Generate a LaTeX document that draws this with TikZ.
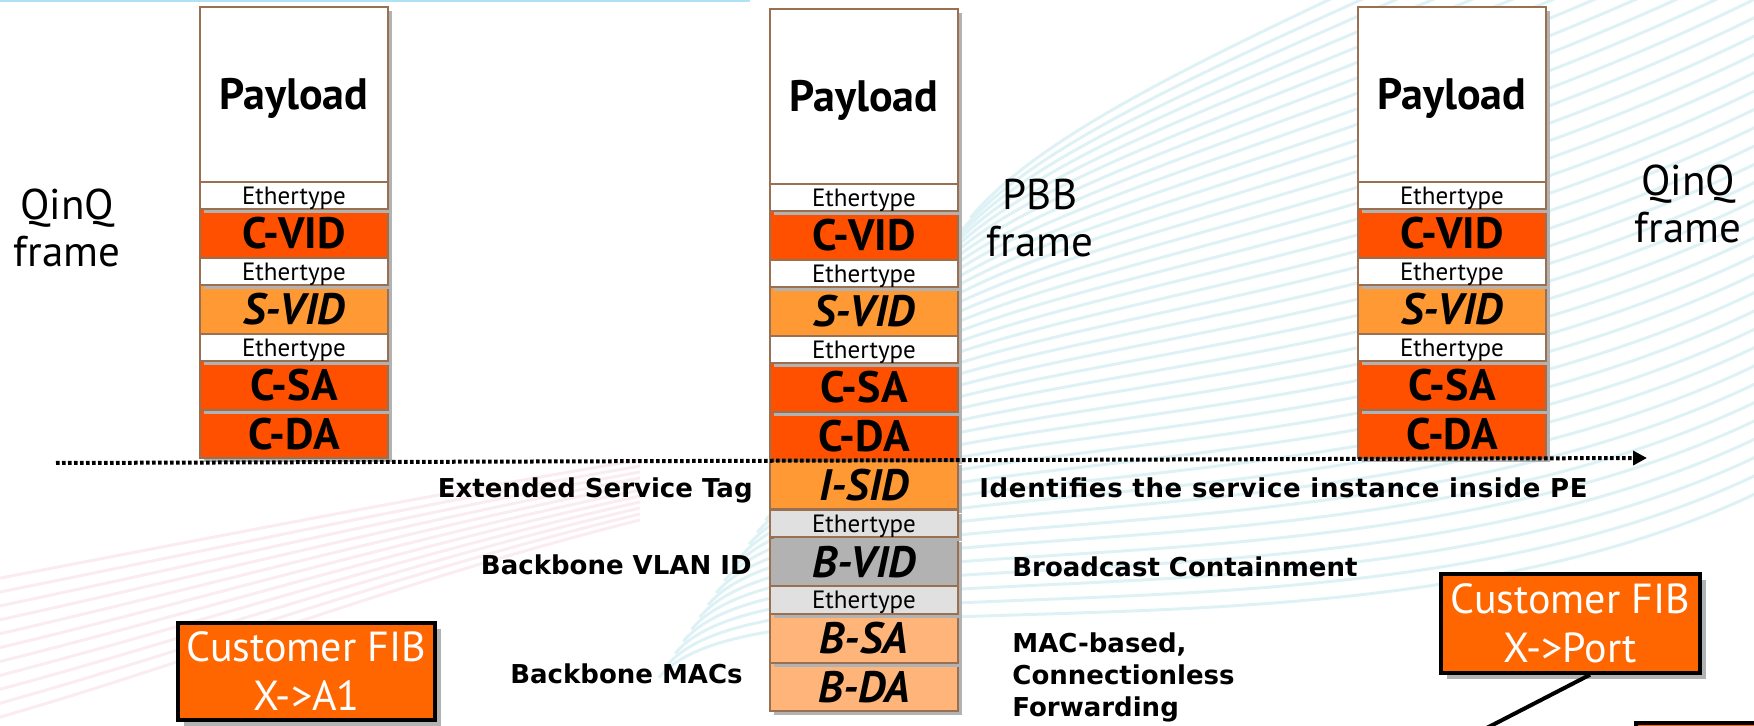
\documentclass[tikz,border=0pt]{standalone}
\usepackage{fontspec}
\setmainfont{PT Sans}
\newfontfamily\lblfont{DejaVu Sans}
\usetikzlibrary{shadows,arrows.meta,calc,positioning}

\definecolor{cred}{RGB}{255,80,0}
\definecolor{sorange}{RGB}{255,153,51}
\definecolor{bvgrey}{RGB}{178,178,178}
\definecolor{ethgrey}{RGB}{224,224,224}
\definecolor{peach}{RGB}{255,181,122}
\definecolor{fldedge}{RGB}{153,112,82}
\definecolor{shgrey}{RGB}{178,178,178}
\definecolor{fiborange}{RGB}{255,102,0}
\definecolor{swcyan}{RGB}{222,242,246}
\definecolor{swpink}{RGB}{250,236,241}
\definecolor{swblue}{RGB}{175,226,245}

\tikzset{
  fld/.style={rectangle, draw=fldedge, line width=1pt, inner sep=0pt, outer sep=0pt,
    minimum width=94pt, text depth=0pt,
    drop shadow={shadow xshift=2pt, shadow yshift=-2pt, fill=shgrey, opacity=1}},
  payfld/.style={fld, fill=white, minimum height=87.5pt, text height=15.4pt,
    font=\fontsize{22}{24}\selectfont\bfseries},
  ethfld/.style={fld, fill=white, minimum height=13.75pt, text height=8.7pt,
    font=\fontsize{12.5}{14}\selectfont},
  gethfld/.style={ethfld, fill=ethgrey},
  cfld/.style={fld, fill=cred, minimum height=24.25pt, text height=15.2pt,
    font=\fontsize{22}{24}\selectfont\bfseries},
  sfld/.style={cfld, fill=sorange, font=\fontsize{22}{24}\selectfont\bfseries\itshape},
  bvfld/.style={sfld, fill=bvgrey},
  bfld/.style={sfld, fill=peach},
  lbl/.style={font=\lblfont\fontsize{13}{16}\selectfont\bfseries, inner sep=0pt},
  frm/.style={font=\fontsize{21.5}{23.5}\selectfont, align=center, inner sep=0pt},
  fib/.style={draw=black, line width=1.75pt, fill=fiborange, text=white, align=center,
    inner sep=0pt, text depth=0pt, font=\fontsize{21}{24.5}\selectfont,
    drop shadow={shadow xshift=3pt, shadow yshift=-3pt, fill=shgrey, opacity=1}}
}

\begin{document}
\begin{tikzpicture}[x=0.5pt,y=-0.5pt,>=latex]
\useasboundingbox (0,0) rectangle (1754,726);
\clip (0,0) rectangle (1754,726);

% background swoosh
\foreach \k in {4,...,42}{
  \pgfmathsetmacro{\u}{\k/60}
  \draw[swcyan, line width=1.5pt] (626+492*\u,726-726*\u) .. controls (726+492*\u,606-726*\u) and (1370,760-1100*\u) .. (1770,560-1100*\u);
}
\foreach \k in {0,...,10}
  \draw[swpink, line width=1.5pt] (-10,580+14*\k) .. controls (200,540+12*\k) and (400,500+8*\k) .. (640,460+6*\k);
\draw[swblue, line width=1pt] (0,1) -- (750,1);

% QinQ and PBB stacks
\foreach \s/\cx/\dy in {l/294/0, m/864/2, r/1452/0}{
  \foreach \n/\st/\cy/\t in {cda/cfld/434.25/C-DA, csa/cfld/385.75/C-SA, svid/sfld/309.75/S-VID, cvid/cfld/233.75/C-VID, pay/payfld/94.5/Payload, ea/ethfld/347.75/Ethertype, eb/ethfld/271.75/Ethertype, ec/ethfld/195.75/Ethertype}
    \node[\st] (\s\n) at (\cx,\cy+\dy) {\t};
}
\foreach \n/\st/\cy/\t in {bda/bfld/687/B-DA, bsa/bfld/638.5/B-SA, bvid/bvfld/562/B-VID, isid/sfld/485/I-SID, ed/gethfld/600/Ethertype, ee/gethfld/523.5/Ethertype}
  \node[\st] (m\n) at (864,\cy) {\t};

\node[frm] (lfrm) at (67,228) {QinQ\\frame};
\node[frm] (pfrm) at (1040,218) {PBB\\frame};
\node[frm] (rfrm) at (1688,204) {QinQ\\frame};

\node[lbl, anchor=base east] (tagl) at (753,497) {Extended Service Tag};
\node[lbl, anchor=base east] (bvl) at (752,574) {Backbone VLAN ID};
\node[lbl, anchor=base east] (macl) at (743,683) {Backbone MACs};
\node[lbl, anchor=base west] (tagr) at (979,497) {\addfontfeature{LetterSpace=2.5}Identifies the service instance inside PE};
\node[lbl, anchor=base west] (bvr) at (1012,576) {Broadcast Containment};
\node[lbl, anchor=west, align=left] (macr) at (1012,677) {MAC-based,\\Connectionless\\Forwarding};

\node[fib, minimum width=128.5pt, minimum height=48.5pt] (lfib) at (306.5,671.5) {Customer FIB\\X->A1};
\node[fib, minimum width=129.5pt, minimum height=49.5pt] (rfib) at (1570.5,623.5) {Customer FIB\\X->Port};
\node[fib, anchor=north west, minimum width=80pt, minimum height=30pt] (pfib) at (1634,721) {};

\coordinate (tail) at (1477,733);
\draw[line width=2pt] ($(rfib.south)+(19.5,0)$) -- (tail);

\coordinate (dstart) at (56,463);
\coordinate (dend) at (1647,458);
\draw[line width=2pt, dash pattern=on 1.8pt off 1.2pt, -{Triangle[length=7pt,width=7pt]}] (dstart) -- (dend);
\end{tikzpicture}
\end{document}
